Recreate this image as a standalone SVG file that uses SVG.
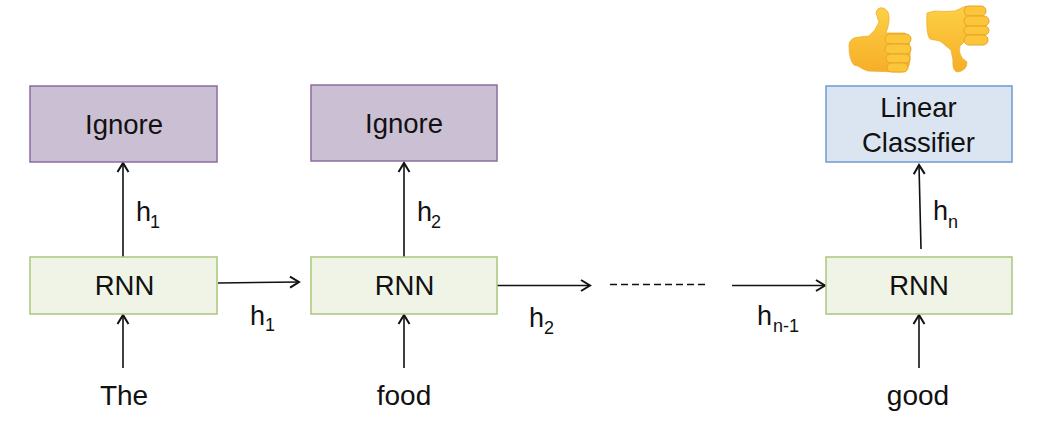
<svg xmlns="http://www.w3.org/2000/svg" width="1052" height="428" viewBox="0 0 1052 428">
<style>
text{font-family:"Liberation Sans",Arial,sans-serif;fill:#111;text-anchor:middle}
.l{font-size:27.500px}
.t{font-size:28px}
.h{font-size:27px;text-anchor:start}
.s{font-size:18px}
.ignore{fill:#cbbfd3;stroke:#8a6ea0;stroke-width:1.5}
.rnn{fill:#f0f4e6;stroke:#aac67c;stroke-width:1.5}
.lin{fill:#dbe5f1;stroke:#6d9bd0;stroke-width:1.5}
.c{stroke:#111;stroke-width:1.6;fill:none}
.a{marker-end:url(#arr)}
.hand{fill:url(#gold);stroke:#f0ad2a;stroke-width:.8}
.f{fill:#fcc63a;stroke:#e8a325;stroke-width:1}
</style>
<defs>
<marker id="arr" markerUnits="userSpaceOnUse" markerWidth="12" markerHeight="14" refX="10" refY="7" orient="auto">
<path d="M1 1.500L10 7L1 12.500" fill="none" stroke="#111" stroke-width="2"/>
</marker>
<linearGradient id="gold" x1="0" y1="0" x2="0" y2="1"><stop offset="0" stop-color="#fdd045"/><stop offset="1" stop-color="#f6ae27"/></linearGradient>
</defs>
<rect width="1052" height="428" fill="#fff"/>
<g id="connectors">
<path class="c a" d="M123 257V163"/>
<path class="c a" d="M123 368V315"/>
<path class="c a" d="M218 283L299 282"/>
<path class="c a" d="M404 257V163"/>
<path class="c a" d="M404 368V315"/>
<path class="c a" d="M497 285.500H590"/>
<path class="c" d="M610 284.500H705" stroke-dasharray="7 4"/>
<path class="c a" d="M732 285.500H825"/>
<path class="c a" d="M921 249L919 165"/>
<path class="c a" d="M919 368V315"/>
</g>
<g id="ignore1"><rect class="ignore" x="30" y="86" width="187" height="76"/><text class="l" x="124" y="134">Ignore</text></g>
<g id="ignore2"><rect class="ignore" x="311" y="85" width="186" height="76"/><text class="l" x="404" y="133">Ignore</text></g>
<g id="classifier"><rect class="lin" x="826" y="86" width="186" height="76"/><text class="l" x="918.500" y="117">Linear</text><text class="l" x="918.500" y="152">Classifier</text></g>
<g id="rnn1"><rect class="rnn" x="30" y="257" width="187" height="57"/><text class="l" x="124.500" y="295">RNN</text></g>
<g id="rnn2"><rect class="rnn" x="311" y="257" width="186" height="57"/><text class="l" x="404.500" y="295">RNN</text></g>
<g id="rnn3"><rect class="rnn" x="826" y="257" width="186" height="57"/><text class="l" x="919" y="295">RNN</text></g>
<g id="word1"><text class="t" x="124" y="405">The</text></g>
<g id="word2"><text class="t" x="404" y="405">food</text></g>
<g id="word3"><text class="t" x="918" y="405">good</text></g>
<g id="labels">
<text class="h" x="136" y="221">h</text><text class="s" x="155" y="228">1</text>
<text class="h" x="417" y="221">h</text><text class="s" x="436" y="228">2</text>
<text class="h" x="933" y="220">h</text><text class="s" x="953" y="228">n</text>
<text class="h" x="250" y="325">h</text><text class="s" x="270" y="331">1</text>
<text class="h" x="529" y="327">h</text><text class="s" x="549" y="334">2</text>
<text class="h" x="757" y="325">h</text><text class="s" x="786" y="332">n-1</text>
</g>
<g id="thumbs-up">
<path class="hand" d="M849 45Q850 37 860 37L869 36Q876 30 879 22L876 13Q877 7 883 8Q890 10 889 21Q888 28 886 33L905 33Q911 40 910 60Q909 72 900 72L868 71Q862 69 858 66L854 65Q849 60 849 45Z"/>
<rect class="f" x="885" y="34" width="26" height="10" rx="5"/>
<rect class="f" x="885" y="44" width="26" height="10" rx="5"/>
<rect class="f" x="886" y="54" width="24" height="9" rx="4.500"/>
<rect class="f" x="887" y="63" width="21" height="9" rx="4.500"/>
</g>
<g id="thumbs-down">
<path class="hand" d="M927 13L935 11Q945 12 955 11L966 6L966 40L960 46Q958 52 962 58L967 62Q967 71 957 72Q952 70 953 60L951 50L940 41L930 39Q926 35 927 13Z"/>
<rect class="f" x="964" y="6" width="22" height="10" rx="5"/>
<rect class="f" x="964" y="16" width="25" height="10" rx="5"/>
<rect class="f" x="964" y="26" width="25" height="9" rx="4.500"/>
<rect class="f" x="964" y="35" width="24" height="10" rx="5"/>
</g>
</svg>
